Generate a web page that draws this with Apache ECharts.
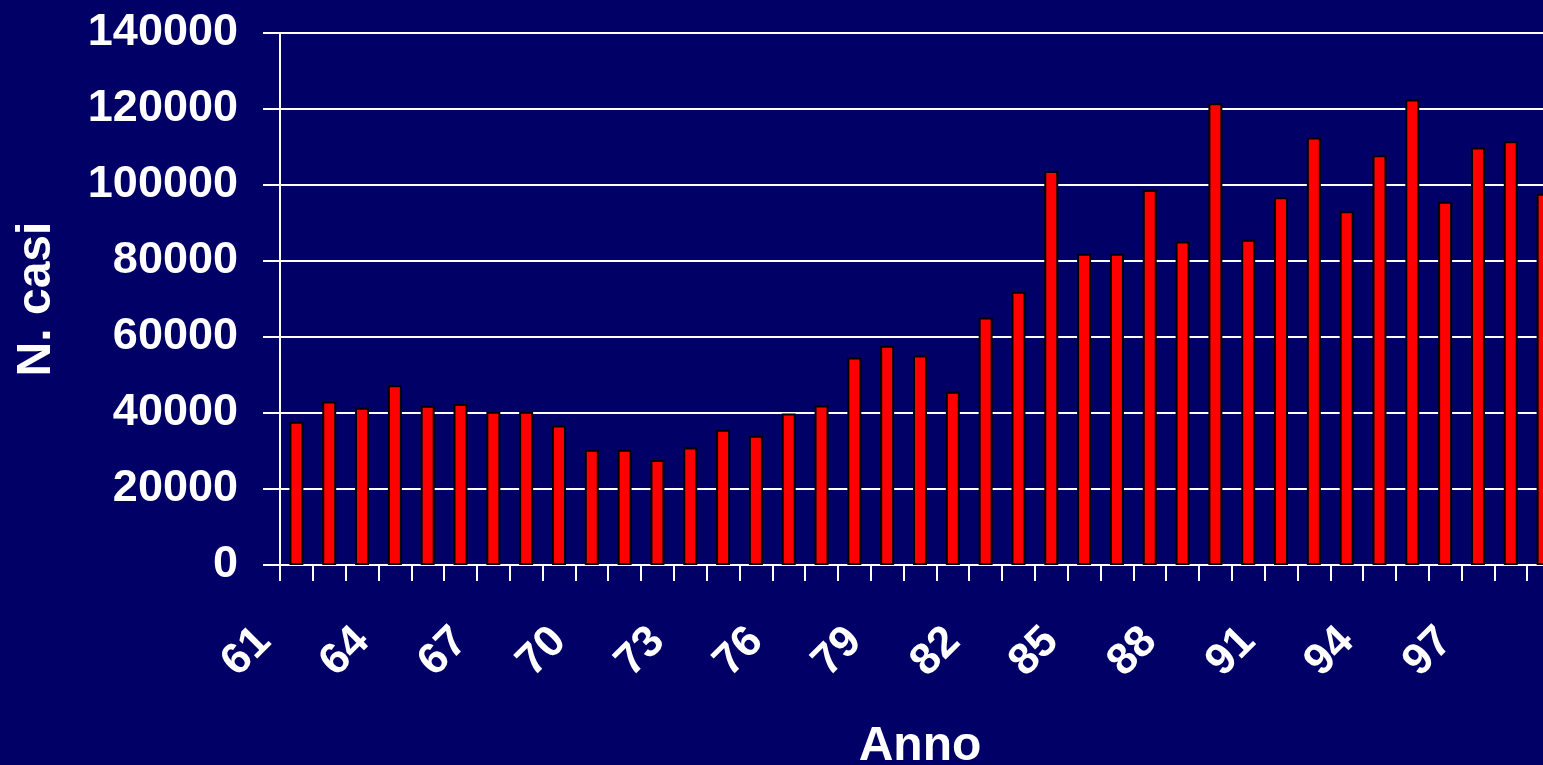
<!DOCTYPE html>
<html>
<head>
<meta charset="utf-8">
<script src="https://cdn.jsdelivr.net/npm/echarts@6/dist/echarts.min.js"></script>
<style>
  html, body { margin: 0; padding: 0; background: #000066; overflow: hidden; }
  #chart { width: 1561px; height: 765px; }
</style>
</head>
<body>
<div id="chart"></div>
<script>
// anni 1961-1999 (ultimo anno tagliato dal bordo destro)
const anni = ['61', '62', '63', '64', '65', '66', '67', '68', '69', '70',
  '71', '72', '73', '74', '75', '76', '77', '78', '79', '80',
  '81', '82', '83', '84', '85', '86', '87', '88', '89', '90',
  '91', '92', '93', '94', '95', '96', '97', '98', '99']

const casi = [37700, 43000, 41400, 47300, 41900, 42400, 40300, 40300, 36700, 30300,
  30300, 27600, 30900, 35600, 34000, 39900, 42000, 54600, 57700, 55100,
  45600, 65100, 71900, 103700, 81900, 81900, 98700, 85100, 121500, 85600,
  96800, 112500, 93100, 107800, 122500, 95600, 109900, 111500, 97700]

const yMax = 140000
const yStep = 20000

const font = "'Liberation Sans', Arial, sans-serif"

const chart = echarts.init(document.getElementById('chart'))

const option = {
  backgroundColor: '#000066',
  animation: false,
  grid: {
    left: 280,
    right: 1,
    top: 33,
    bottom: 200,
    outerBoundsMode: 'none'
  },
  xAxis: {
    type: 'category',
    data: anni,
    name: 'Anno',
    nameLocation: 'middle',
    nameGap: 158,
    nameTextStyle: {
      color: '#fff',
      fontFamily: font,
      fontWeight: 'bold',
      fontSize: 48
    },
    axisLine: { lineStyle: { color: '#fff', width: 2 } },
    axisTick: { show: true, interval: 0, length: 16, lineStyle: { color: '#fff', width: 2 } },
    axisLabel: {
      interval: 2,
      rotate: 45,
      margin: 37,
      padding: [0, 46, 0, 0],
      color: '#fff',
      fontFamily: font,
      fontWeight: 'bold',
      fontSize: 44
    }
  },
  yAxis: {
    type: 'value',
    min: 0,
    max: yMax,
    interval: yStep,
    name: 'N. casi',
    nameLocation: 'middle',
    nameGap: 219,
    nameTextStyle: {
      color: '#fff',
      fontFamily: font,
      fontWeight: 'bold',
      fontSize: 48
    },
    axisLine: { show: true, lineStyle: { color: '#fff', width: 2 } },
    axisTick: { show: true, length: 17, lineStyle: { color: '#fff', width: 2 } },
    splitLine: { lineStyle: { color: '#fff', width: 2 } },
    axisLabel: {
      margin: 42,
      color: '#fff',
      fontFamily: font,
      fontWeight: 'bold',
      fontSize: 45,
      formatter: v => String(v)
    }
  },
  series: [
    {
      type: 'bar',
      data: casi,
      barWidth: 14,
      itemStyle: {
        color: '#ff0000',
        borderColor: '#000',
        borderWidth: 2
      }
    }
  ]
}

chart.setOption(option)
</script>
</body>
</html>
